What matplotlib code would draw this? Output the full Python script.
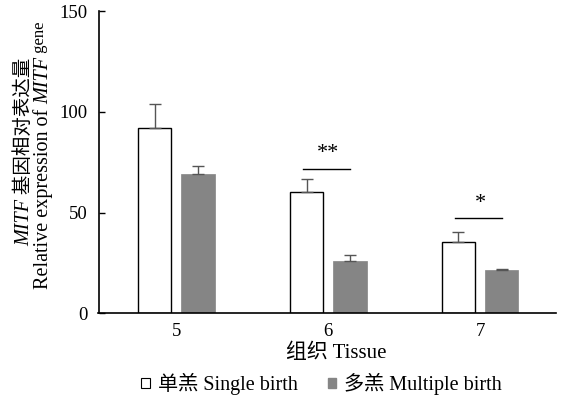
import numpy as np
import matplotlib
matplotlib.use("Agg")
import matplotlib.pyplot as plt
from matplotlib.patches import Patch

plt.rcParams['font.family'] = ['Liberation Serif', 'Noto Sans CJK SC']

# data
tissues = ['5', '6', '7']
single_mean = [92.2, 60.0, 35.3]
single_err = [11.8, 6.8, 5.1]
multi_mean = [69.0, 26.0, 21.4]
multi_err = [4.3, 2.7, 0.5]
# significance marks: (group index, label, line height, star height)
sig_marks = [(1, '**', 71.8, 77.0), (2, '*', 47.1, 52.0)]

W, H = 567, 399
fig = plt.figure(figsize=(W / 100, H / 100), dpi=100)
ax = fig.add_axes([98.5 / W, 1 - 313 / H, 457.5 / W, (313 - 11.5) / H])

x = np.arange(len(tissues))
bw = 0.22
off = 0.143
ax.bar(x - off, single_mean, bw, color='white', edgecolor='black', linewidth=1.0)
ax.bar(x + off, multi_mean, bw, color='#858585', edgecolor='#858585', linewidth=0.5)
ax.errorbar(x - off, single_mean, yerr=[np.zeros(3), single_err], fmt='none',
            ecolor='#555555', elinewidth=1.0, capsize=4, capthick=1.0)
ax.errorbar(x + off, multi_mean, yerr=[np.zeros(3), multi_err], fmt='none',
            ecolor='#555555', elinewidth=1.0, capsize=4, capthick=1.0)

for gi, lab, ly, sy in sig_marks:
    ax.plot([gi - 0.165, gi + 0.145], [ly, ly], color='black', lw=1.0)
    ax.text(gi, sy, lab, ha='center', va='baseline', fontsize=16)

ax.set_xlim(-0.513, 2.5)
ax.set_ylim(0, 150)
ax.set_yticks([0, 50, 100, 150])
ax.set_xticks(x)
ax.set_xticklabels(tissues)
ax.tick_params(axis='y', direction='in', length=4, width=1, labelsize=13.5, pad=8)
ax.tick_params(axis='x', length=0, labelsize=13.5, pad=7)
for s in ['top', 'right']:
    ax.spines[s].set_visible(False)
for s in ['left', 'bottom']:
    ax.spines[s].set_linewidth(1.2)

ax.set_xlabel('组织 Tissue', fontsize=15)
ax.xaxis.set_label_coords(0.519, -0.102)

handles = [Patch(facecolor='white', edgecolor='black', linewidth=0.8),
           Patch(facecolor='#858585', edgecolor='#858585')]
fig.legend(handles, ['单羔 Single birth', '多羔 Multiple birth'], loc='center',
           bbox_to_anchor=(0.567, 0.038), ncol=2, frameon=False, fontsize=14.5,
           handlelength=0.4, handleheight=0.4, handletextpad=0.4,
           columnspacing=1.5)


# rotated y label built from pieces so MITF can be italic
def vertical_line(pieces, xpix, ycenter):
    texts = []
    for s, kw in pieces:
        t = fig.text(0, 0, s, rotation=90, rotation_mode='anchor',
                     ha='left', va='baseline', transform=None, **kw)
        texts.append(t)
    r = fig.canvas.get_renderer()
    lens = [t.get_window_extent(r).height for t in texts]
    y = ycenter - sum(lens) / 2
    for t, ln in zip(texts, lens):
        t.set_position((xpix, y))
        y += ln
    return texts


line1 = [('MITF', dict(fontsize=14.5, style='italic')),
         (' 基因相对表达量', dict(fontsize=14))]
line2 = [('Relative expression of ', dict(fontsize=14.5)),
         ('MITF', dict(fontsize=14.5, style='italic')),
         (' gene', dict(fontsize=12))]
vertical_line(line1, 29, H - 152)
t2 = vertical_line(line2, 48, H - 155)
# 'gene' sits a little raised in the reference
px, py = t2[-1].get_position()
t2[-1].set_position((px - 4, py))

fig.savefig('out.png', dpi=100)
